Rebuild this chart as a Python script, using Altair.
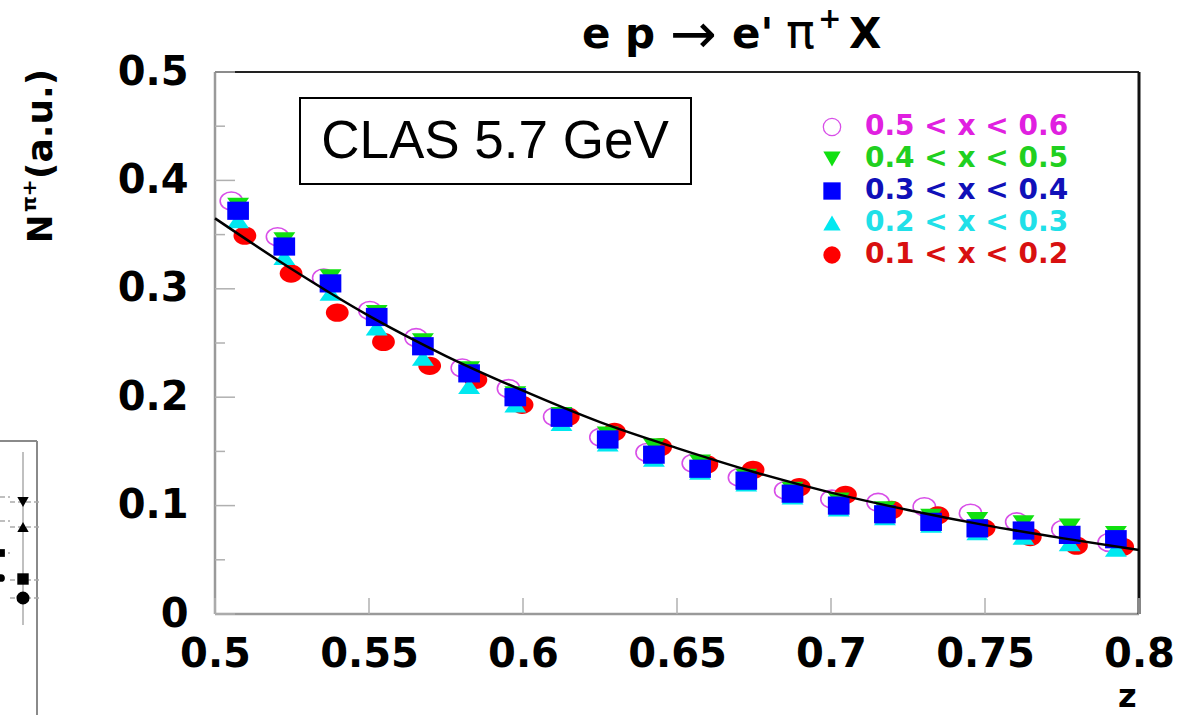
import altair as alt
import pandas as pd

# ---------------- data ----------------
Z = [0.5075, 0.5225, 0.5375, 0.5525, 0.5675, 0.5825, 0.5975, 0.6125, 0.6275, 0.6425,
     0.6575, 0.6725, 0.6875, 0.7025, 0.7175, 0.7325, 0.7475, 0.7625, 0.7775, 0.7925]

N_X05_06 = [0.381, 0.348, 0.310, 0.280, 0.255, 0.227, 0.208, 0.182, 0.163, 0.149,
            0.139, 0.126, 0.114, 0.106, 0.103, 0.099, 0.093, 0.085, 0.078, 0.066]
N_X04_05 = [0.377, 0.345, 0.311, 0.278, 0.252, 0.226, 0.203, 0.184, 0.166, 0.155,
            0.140, 0.127, 0.115, 0.105, 0.097, 0.090, 0.087, 0.084, 0.081, 0.074]
N_X03_04 = [0.372, 0.339, 0.305, 0.274, 0.247, 0.222, 0.200, 0.181, 0.161, 0.147,
            0.134, 0.123, 0.111, 0.100, 0.092, 0.085, 0.079, 0.077, 0.073, 0.069]
N_X02_03 = [0.363, 0.329, 0.296, 0.264, 0.236, 0.210, 0.193, 0.176, 0.157, 0.143,
            0.131, 0.120, 0.108, 0.097, 0.089, 0.082, 0.075, 0.071, 0.065, 0.060]
N_X01_02 = [0.349, 0.314, 0.278, 0.251, 0.229, 0.216, 0.193, 0.182, 0.168, 0.154,
            0.138, 0.133, 0.117, 0.110, 0.096, 0.091, 0.079, 0.071, 0.063, 0.062]

FIT_Z = [0.500, 0.525, 0.550, 0.575, 0.600, 0.625, 0.650, 0.675, 0.700, 0.725, 0.750, 0.775, 0.800]
FIT_N = [0.365, 0.318, 0.275, 0.238, 0.206, 0.177, 0.153, 0.131, 0.112, 0.096, 0.082, 0.070, 0.059]

SERIES = ["0.5 < x < 0.6", "0.4 < x < 0.5", "0.3 < x < 0.4", "0.2 < x < 0.3", "0.1 < x < 0.2"]
SERIES_VALUES = [N_X05_06, N_X04_05, N_X03_04, N_X02_03, N_X01_02]
Z_SHIFT = [-0.0022, 0.0, 0.0, 0.0, 0.0022]   # small horizontal staggering of the series

X_TICKS = [0.5, 0.55, 0.6, 0.65, 0.7, 0.75, 0.8]
Y_MAJOR = [0.0, 0.1, 0.2, 0.3, 0.4, 0.5]
Y_MINOR = [0.05, 0.15, 0.25, 0.35, 0.45]

# ---------------- layout / style ----------------
W, H = 924, 542
PAD = {"left": 215, "top": 72, "right": 38, "bottom": 101}
BOLD = "DejaVu Sans"
ARIAL = "Liberation Sans"

rows = []
for name, vals, dz in zip(SERIES, SERIES_VALUES, Z_SHIFT):
    for z, n in zip(Z, vals):
        rows.append({"series": name, "z": round(z + dz, 4), "n": n})
pts = pd.DataFrame(rows)
fit = pd.DataFrame({"z": FIT_Z, "n": FIT_N})

xscale = alt.Scale(domain=[0.5, 0.8], nice=False, zero=False)
yscale = alt.Scale(domain=[0, 0.5], nice=False, zero=False)
xaxis = alt.Axis(values=X_TICKS, format=".2~f", title=None, grid=False, domain=False, ticks=False,
                 labelFont=BOLD, labelFontWeight="bold", labelFontSize=40, labelColor="black",
                 labelPadding=20, labelFlush=False, labelOverlap=False, labelBound=False)
yaxis = alt.Axis(values=Y_MAJOR, format=".1~f", title=None, grid=False, domain=False, ticks=False,
                 labelFont=BOLD, labelFontWeight="bold", labelFontSize=40, labelColor="black",
                 labelPadding=27, labelFlush=False, labelOverlap=False, labelBound=False)

X = lambda f: alt.X(f, scale=xscale, axis=xaxis)
Y = lambda f: alt.Y(f, scale=yscale, axis=yaxis)

# stretched (elliptic) symbol shapes, as in the picture
ELLIPSE = ("M 1 0 C 1 0.442 0.552 0.8 0 0.8 C -0.552 0.8 -1 0.442 -1 0 "
           "C -1 -0.442 -0.552 -0.8 0 -0.8 C 0.552 -0.8 1 -0.442 1 0 Z")
RECT = "M -1 -0.84 L 1 -0.84 L 1 0.84 L -1 0.84 Z"
TRI_DOWN = "M -1 -0.7 L 1 -0.7 L 0 0.75 Z"
TRI_UP = "M -1 0.7 L 1 0.7 L 0 -0.75 Z"


def one():
    return alt.Chart(pd.DataFrame({"a": [0]}))


def text(txt, x, y, size, weight="bold", font=BOLD, align="left", baseline="alphabetic",
         angle=None, color="black"):
    kw = dict(text=txt, fontSize=size, fontWeight=weight, font=font, align=align,
              baseline=baseline, color=color)
    if angle is not None:
        kw["angle"] = angle
    return one().mark_text(**kw).encode(x=alt.value(x), y=alt.value(y))


def hrule(x1, x2, y, color, width, dash=None):
    kw = dict(color=color, strokeWidth=width)
    if dash:
        kw["strokeDash"] = dash
    return one().mark_rule(**kw).encode(x=alt.value(x1), x2=alt.value(x2), y=alt.value(y))


def vrule(x, y1, y2, color, width, dash=None):
    kw = dict(color=color, strokeWidth=width)
    if dash:
        kw["strokeDash"] = dash
    return one().mark_rule(**kw).encode(x=alt.value(x), y=alt.value(y1), y2=alt.value(y2))


# ---------------- frame and ticks ----------------
frame = [
    vrule(0, 0, H, "#9a9a9a", 2.5),
    hrule(0, W, H, "#9a9a9a", 2.5),
    hrule(0, W, 0, "#222222", 2),
    vrule(W, 0, H, "#111111", 3),
]
xt = alt.Chart(pd.DataFrame({"t": X_TICKS})).mark_rule(color="#b0b0b0", strokeWidth=1.5).encode(
    x=X("t:Q"), y=alt.value(H), y2=alt.value(H - 16))
ytM = alt.Chart(pd.DataFrame({"t": Y_MAJOR})).mark_rule(color="#b0b0b0", strokeWidth=1.5).encode(
    y=Y("t:Q"), x=alt.value(0), x2=alt.value(20))
ytm = alt.Chart(pd.DataFrame({"t": Y_MINOR})).mark_rule(color="#b0b0b0", strokeWidth=1.5).encode(
    y=Y("t:Q"), x=alt.value(0), x2=alt.value(10))

# ---------------- data layers ----------------
def series_layer(name, shape, color, filled, size, sw=1.5):
    kw = dict(shape=shape, size=size, filled=filled, opacity=1)
    if filled:
        kw.update(fill=color, strokeWidth=0)
    else:
        kw.update(stroke=color, strokeWidth=sw)
    return alt.Chart(pts).transform_filter(alt.datum.series == name).mark_point(**kw).encode(
        x=X("z:Q"), y=Y("n:Q"))

mag = series_layer(SERIES[0], ELLIPSE, "#d84ee8", False, 500, 1.6)
red = series_layer(SERIES[4], ELLIPSE, "#ff0000", True, 520)
cya = series_layer(SERIES[3], TRI_UP, "#00e8f0", True, 480)
grn = series_layer(SERIES[1], TRI_DOWN, "#10e010", True, 480)
blu = series_layer(SERIES[2], RECT, "#0000ff", True, 470)

curve = alt.Chart(fit).mark_line(color="black", strokeWidth=2.5, interpolate="monotone").encode(
    x=X("z:Q"), y=Y("n:Q"))

# ---------------- CLAS box ----------------
box = one().mark_rect(fill="white", stroke="black", strokeWidth=2).encode(
    x=alt.value(85), x2=alt.value(476), y=alt.value(26), y2=alt.value(112))
box_txt = text("CLAS 5.7 GeV", 280, 70, 53, weight="normal", font=ARIAL,
               align="center", baseline="middle")

# ---------------- legend ----------------
LEG_COLORS_SYM = ["#d84ee8", "#10e010", "#0000ff", "#00e8f0", "#ff0000"]
LEG_COLORS_TXT = ["#e020e0", "#20d020", "#1010b8", "#20e0e8", "#d81010"]
LEG_SHAPES = ["circle", "triangle-down", "square", "triangle-up", "circle"]
LEG_FILLED = [False, True, True, True, True]
LEG_Y = [55, 87, 119, 151, 183]
legend = []
for nm, cs, ct, sh, fl, ly in zip(SERIES, LEG_COLORS_SYM, LEG_COLORS_TXT, LEG_SHAPES, LEG_FILLED, LEG_Y):
    kw = dict(shape=sh, size=300, filled=fl, opacity=1)
    if fl:
        kw.update(fill=cs, strokeWidth=0)
    else:
        kw.update(stroke=cs, strokeWidth=1.3)
    legend.append(one().mark_point(**kw).encode(x=alt.value(617), y=alt.value(ly)))
    legend.append(text(nm, 650, ly, 28, color=ct, baseline="middle"))

# ---------------- titles ----------------
title = [
    text("e", 367, -24, 42),
    text("p", 410, -24, 42),
    text("\u2192", 455, -19, 56, weight="normal"),
    text("e'", 517, -24, 42),
    text("\u03c0", 571, -24, 48, weight="normal"),
    text("+", 603, -44, 28),
    text("X", 634, -24, 42),
]
ylab = [
    text("N", -163, 171, 34, angle=270),
    text("\u03c0+", -179, 140, 20, angle=270),
    text("(a.u.)", -163, 107, 36, angle=270),
]
zlab = text("z", 903, 642, 32, baseline="bottom")

# ---------------- fragment of the neighbouring panel (left edge) ----------------
frag = [
    vrule(-178, 369, 643, "#8a8a8a", 2),
    hrule(-215, -178, 369, "#8a8a8a", 2),
    vrule(-192, 380, 553, "#c0c0c0", 2),
    hrule(-205, -175, 430, "#aaaaaa", 1.5, [5, 3]),
    hrule(-205, -175, 455, "#aaaaaa", 1.5, [5, 3]),
    hrule(-205, -175, 508, "#aaaaaa", 1.5, [5, 3]),
    hrule(-205, -175, 526, "#aaaaaa", 1.5, [5, 3]),
    hrule(-215, -205, 425, "#aaaaaa", 1.5, [5, 3]),
    hrule(-215, -205, 449, "#aaaaaa", 1.5, [5, 3]),
    hrule(-215, -205, 481, "#aaaaaa", 1.5, [5, 3]),
    one().mark_point(shape="triangle-down", size=130, filled=True, fill="black", opacity=1).encode(
        x=alt.value(-192), y=alt.value(430)),
    one().mark_point(shape="triangle-up", size=130, filled=True, fill="black", opacity=1).encode(
        x=alt.value(-192), y=alt.value(455)),
    one().mark_point(shape="square", size=130, filled=True, fill="black", opacity=1).encode(
        x=alt.value(-192), y=alt.value(507)),
    one().mark_point(shape="circle", size=170, filled=True, fill="black", opacity=1).encode(
        x=alt.value(-192), y=alt.value(526)),
    one().mark_point(shape="square", size=60, filled=True, fill="black", opacity=1).encode(
        x=alt.value(-214), y=alt.value(481)),
    one().mark_point(shape="circle", size=60, filled=True, fill="black", opacity=1).encode(
        x=alt.value(-214), y=alt.value(506)),
]

chart = alt.layer(
    *frame, xt, ytM, ytm, box, box_txt,
    mag, red, cya, grn, blu, curve,
    *legend, *title, *ylab, zlab, *frag,
).properties(
    width=W, height=H, padding=PAD, autosize=alt.AutoSizeParams(type="none"),
    background="white",
).configure_view(stroke=None)

chart.save("out.html", embed_options={"renderer": "svg", "actions": False})
